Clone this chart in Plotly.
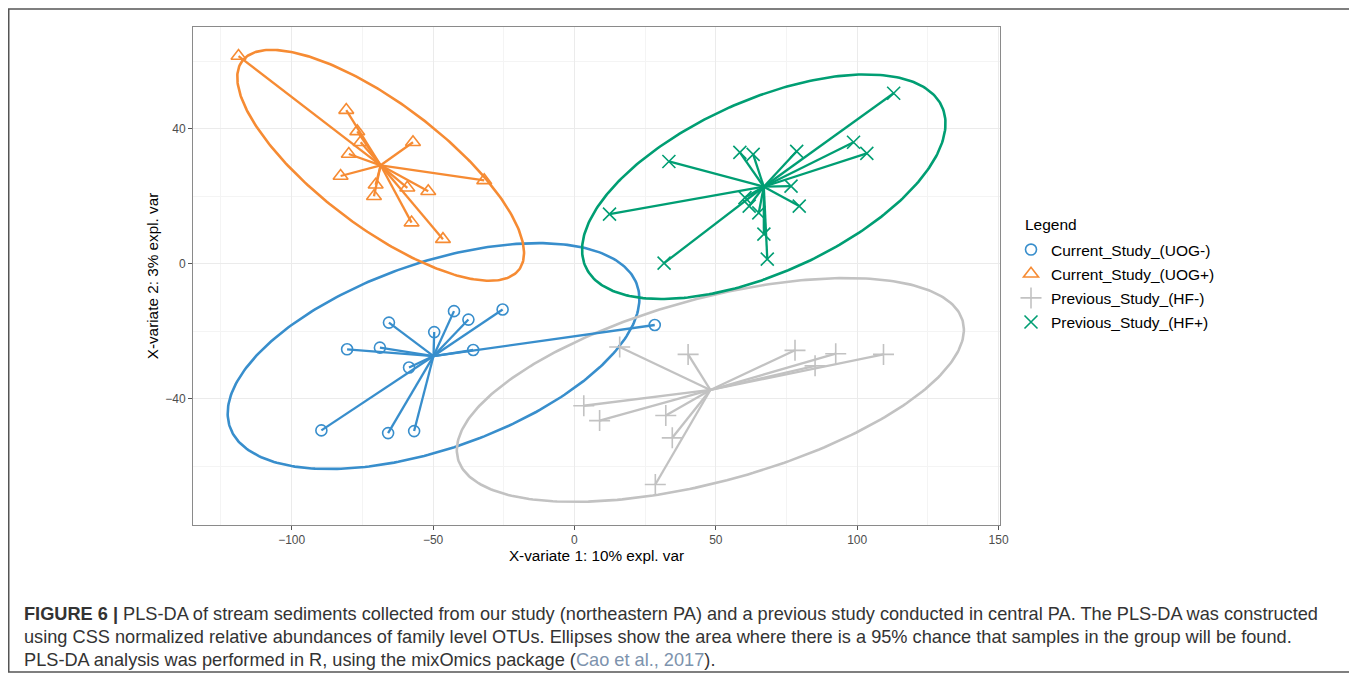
import numpy as np
import plotly.graph_objects as go

# ---------------- data ----------------
groups = ["Current_Study_(UOG-)", "Current_Study_(UOG+)",
          "Previous_Study_(HF-)", "Previous_Study_(HF+)"]

uog_neg_x = [-42.6, -37.5, -25.4, -65.6, -49.6, -80.4, -68.8, -35.8, 28.4, -58.5, -89.5, -65.9, -56.7]
uog_neg_y = [-14.0, -16.5, -13.5, -17.4, -20.2, -25.3, -24.8, -25.5, -18.1, -30.7, -49.3, -50.1, -49.5]

uog_pos_x = [-118.8, -80.7, -76.8, -75.6, -79.8, -57.1, -82.7, -31.9, -70.3, -70.9, -59.1, -51.7, -57.6, -46.5]
uog_pos_y = [61.5, 45.5, 39.2, 36.0, 32.5, 36.0, 26.0, 24.7, 23.4, 20.0, 22.5, 21.5, 12.2, 7.3]

hf_neg_x = [16.0, 40.2, 78.0, 92.4, 109.3, 85.1, 3.3, 8.9, 32.3, 34.6, 28.6]
hf_neg_y = [-24.6, -26.8, -25.6, -26.6, -26.8, -30.2, -42.0, -46.4, -44.9, -51.5, -65.3]

hf_pos_x = [112.9, 98.7, 103.4, 78.6, 58.5, 63.2, 33.4, 76.6, 79.5, 12.4, 60.3, 61.8, 65.2, 67.0, 68.2, 31.7]
hf_pos_y = [50.5, 36.0, 32.7, 33.3, 33.0, 32.4, 30.3, 23.0, 17.1, 14.7, 19.6, 17.1, 15.1, 8.8, 1.4, 0.2]

x_tick_vals = [-100, -50, 0, 50, 100, 150]
y_tick_vals = [-40, 0, 40]

x_title = "X-variate 1: 10% expl. var"
y_title = "X-variate 2: 3% expl. var"
ellipse_level = 0.95

caption_lines = [
    "<b>FIGURE 6 |</b> PLS-DA of stream sediments collected from our study (northeastern PA) and a previous study conducted in central PA. The PLS-DA was constructed",
    "using CSS normalized relative abundances of family level OTUs. Ellipses show the area where there is a 95% chance that samples in the group will be found.",
    "PLS-DA analysis was performed in R, using the mixOmics package (<span style='color:#7d93ad'>Cao et al., 2017</span>).",
]

# ---------------- styles ----------------
colors = ["#388ECC", "#F68B33", "#C2C2C2", "#009E73"]
symbols = ["circle-open", "triangle-up-open", "cross-thin-open", "x-thin-open"]
msizes = [11, 13, 15, 13]
FONT = "Liberation Sans, Arial, Helvetica, sans-serif"

data = [(uog_neg_x, uog_neg_y), (uog_pos_x, uog_pos_y),
        (hf_neg_x, hf_neg_y), (hf_pos_x, hf_pos_y)]


def conf_ellipse(xs, ys, level, n=300):
    X = np.column_stack([xs, ys])
    c = X.mean(axis=0)
    cov = np.cov(X.T)
    vals, vecs = np.linalg.eigh(cov)
    t = np.sqrt(-2.0 * np.log(1.0 - level))  # sqrt(chi2_2(level))
    th = np.linspace(0, 2 * np.pi, n)
    circ = np.column_stack([np.cos(th), np.sin(th)])
    pts = c + t * circ @ (vecs * np.sqrt(vals)).T
    return pts[:, 0], pts[:, 1]


fig = go.Figure()

# ellipses
for (xs, ys), col in zip(data, colors):
    ex, ey = conf_ellipse(xs, ys, ellipse_level)
    fig.add_trace(go.Scatter(x=ex, y=ey, mode="lines", line=dict(color=col, width=2.6),
                             showlegend=False, hoverinfo="skip"))

# star spokes (centroid -> each sample)
for (xs, ys), col in zip(data, colors):
    cx, cy = float(np.mean(xs)), float(np.mean(ys))
    sx, sy = [], []
    for x, y in zip(xs, ys):
        sx += [cx, x, None]
        sy += [cy, y, None]
    fig.add_trace(go.Scatter(x=sx, y=sy, mode="lines", line=dict(color=col, width=2.3),
                             showlegend=False, hoverinfo="skip"))

# sample points
for (xs, ys), col, sym, ms, name in zip(data, colors, symbols, msizes, groups):
    fig.add_trace(go.Scatter(x=xs, y=ys, mode="markers", name=name, legendgroup=name,
                             marker=dict(symbol=sym, size=ms, color=col,
                                         line=dict(color=col, width=1.6))))

# ---------------- layout ----------------
W, H = 1349, 665
L, T, PW, PH = 185, 19, 807, 498
R = W - L - PW
B = H - T - PH


def px(fx):
    return (fx - L) / PW


def py(fy):
    return (T + PH - fy) / PH


axis_common = dict(showline=True, mirror=True, linecolor="#8a8a8a", linewidth=1,
                   ticks="outside", ticklen=4, tickcolor="#555", tickwidth=1,
                   showgrid=True, gridcolor="#ebebeb", gridwidth=1,
                   zeroline=False, tickfont=dict(size=12, color="#4d4d4d", family=FONT))

fig.update_xaxes(range=[-134.9, 150.5], tickvals=x_tick_vals,
                 minor=dict(dtick=25, tick0=0, showgrid=True, gridcolor="#f4f4f4", gridwidth=1),
                 title=dict(text=x_title, font=dict(size=15.3, color="#000", family=FONT), standoff=2),
                 **axis_common)
fig.update_yaxes(range=[-77.3, 70.1], tickvals=y_tick_vals,
                 minor=dict(dtick=20, tick0=0, showgrid=True, gridcolor="#f4f4f4", gridwidth=1),
                 title=dict(text=y_title, font=dict(size=15.3, color="#000", family=FONT), standoff=2),
                 **axis_common)

annotations = [dict(text="Legend", xref="paper", yref="paper", x=px(1015), y=py(217),
                    xanchor="left", yanchor="middle", showarrow=False,
                    font=dict(size=15.5, color="#000", family=FONT))]
for i, line in enumerate(caption_lines):
    annotations.append(dict(text=line, xref="paper", yref="paper", x=px(14), y=py(606 + 23 * i),
                            xanchor="left", yanchor="middle", showarrow=False, align="left",
                            font=dict(size=18.2, color="#333", family=FONT)))

shapes = [dict(type="rect", xref="paper", yref="paper",
               x0=px(0.75), x1=px(1347), y0=py(664), y1=py(1),
               line=dict(color="#555", width=1.5), fillcolor="rgba(0,0,0,0)", layer="above")]

fig.update_layout(
    width=W, height=H, autosize=False,
    margin=dict(l=L, r=R, t=T, b=B),
    paper_bgcolor="white", plot_bgcolor="white",
    font=dict(family=FONT, color="#000"),
    legend=dict(x=px(1003), y=py(225), xanchor="left", yanchor="top",
                font=dict(size=15.5, color="#000", family=FONT),
                tracegroupgap=1, bgcolor="rgba(0,0,0,0)"),
    annotations=annotations, shapes=shapes,
)

fig.write_html("out.html")
